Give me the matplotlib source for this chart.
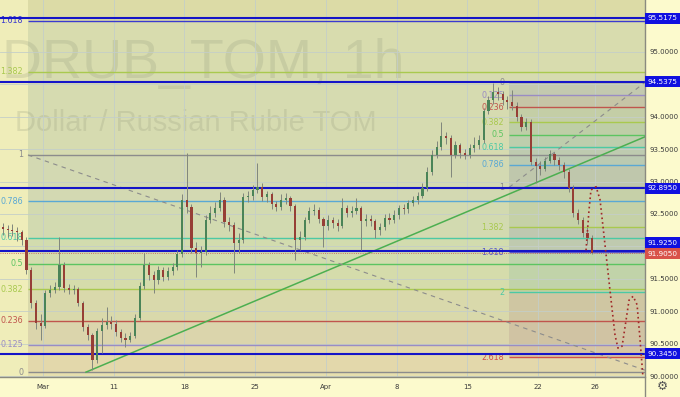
import numpy as np
import matplotlib.pyplot as plt
from matplotlib.patches import Rectangle
from matplotlib.transforms import blended_transform_factory

# hourly DRUB_TOM, sampled ~3 candles per trading day (Mar 1 = day 0)
first_open = 92.30
closes = [92.27, 92.25, 92.24, 92.22, 92.10, 91.64, 91.13, 90.82, 90.77, 91.28,
          91.33, 91.37, 91.71, 91.36, 91.33, 91.34, 91.13, 90.76, 90.63, 90.25,
          90.69, 90.79, 90.84, 90.80, 90.68, 90.59, 90.56, 90.62, 90.90, 91.39,
          91.71, 91.56, 91.48, 91.64, 91.53, 91.62, 91.68, 91.88, 92.72, 92.60,
          91.98, 91.90, 91.91, 92.41, 92.52, 92.59, 92.72, 92.38, 92.33, 92.05,
          92.10, 92.76, 92.78, 92.87, 92.92, 92.76, 92.80, 92.65, 92.61, 92.72,
          92.74, 92.62, 92.10, 92.15, 92.41, 92.55, 92.56, 92.42, 92.31, 92.41,
          92.36, 92.31, 92.59, 92.52, 92.55, 92.59, 92.39, 92.42, 92.39, 92.25,
          92.30, 92.44, 92.41, 92.48, 92.59, 92.58, 92.67, 92.72, 92.78, 92.90,
          93.15, 93.41, 93.53, 93.70, 93.67, 93.41, 93.56, 93.44, 93.41, 93.52,
          93.56, 93.64, 94.09, 94.26, 94.38, 94.35, 94.26, 94.23, 94.17, 94.00,
          93.84, 93.92, 93.30, 93.24, 93.20, 93.32, 93.43, 93.33, 93.26, 93.15,
          92.90, 92.52, 92.41, 92.21, 92.13, 91.905]
highs = [92.36, 92.33, 92.34, 92.30, 92.26, 92.14, 91.68, 91.18, 90.95, 91.33,
         91.40, 91.45, 92.15, 91.76, 91.42, 91.40, 91.38, 91.16, 90.80, 90.66,
         90.74, 90.90, 91.06, 90.92, 90.86, 90.73, 90.66, 90.68, 90.96, 91.45,
         91.90, 91.76, 91.62, 91.70, 91.68, 91.68, 91.74, 91.95, 92.80, 93.44,
         92.66, 92.06, 92.00, 92.48, 92.62, 92.68, 92.84, 92.76, 92.45, 92.38,
         92.20, 92.82, 92.86, 92.94, 93.29, 92.98, 92.86, 92.84, 92.70, 92.80,
         92.82, 92.78, 92.66, 92.24, 92.46, 92.60, 92.66, 92.60, 92.46, 92.48,
         92.46, 92.42, 92.75, 92.64, 92.62, 92.75, 92.62, 92.50, 92.48, 92.42,
         92.36, 92.50, 92.52, 92.56, 92.64, 92.66, 92.72, 92.78, 92.84, 92.98,
         93.22, 93.48, 93.62, 93.92, 93.76, 93.72, 93.62, 93.60, 93.50, 93.58,
         93.69, 93.72, 94.14, 94.32, 94.52, 94.46, 94.40, 94.32, 94.41, 94.22,
         94.04, 93.98, 93.96, 93.36, 93.32, 93.38, 93.49, 93.46, 93.38, 93.30,
         93.20, 92.94, 92.58, 92.46, 92.30, 92.18]
lows = [92.18, 92.15, 92.16, 92.08, 92.02, 91.58, 91.05, 90.72, 90.56, 90.74,
        91.22, 91.28, 91.33, 91.30, 91.26, 91.27, 91.08, 90.70, 90.55, 90.09,
        90.20, 90.35, 90.72, 90.72, 90.62, 90.52, 90.45, 90.52, 90.58, 90.86,
        91.35, 91.48, 91.28, 91.42, 91.47, 91.48, 91.56, 91.64, 91.84, 92.52,
        91.90, 91.53, 91.68, 91.86, 92.36, 92.46, 92.54, 92.30, 92.24, 91.59,
        91.90, 92.05, 92.68, 92.72, 92.82, 92.70, 92.68, 92.58, 92.54, 92.56,
        92.66, 92.55, 91.79, 91.95, 92.10, 92.36, 92.48, 92.36, 91.99, 92.26,
        92.28, 92.24, 92.28, 92.46, 92.46, 92.50, 91.94, 92.32, 92.32, 92.13,
        92.18, 92.26, 92.34, 92.36, 92.42, 92.50, 92.52, 92.62, 92.66, 92.74,
        92.86, 93.10, 93.36, 93.48, 93.58, 93.07, 93.36, 93.36, 93.34, 93.36,
        93.46, 93.50, 93.60, 94.04, 94.20, 94.26, 94.18, 94.12, 94.10, 93.94,
        93.78, 93.80, 93.25, 92.98, 93.10, 93.16, 93.28, 93.26, 93.18, 93.06,
        92.84, 92.46, 92.34, 92.14, 92.04, 91.88]

tick_days = [0, 5, 10, 15, 20, 25, 30, 35, 39]
tick_labels = ['Mar', '11', '18', '25', 'Apr', '8', '15', '22', '26']
price_ticks = [90.0, 90.5, 91.0, 91.5, 92.0, 92.5, 93.0, 93.5, 94.0, 94.5, 95.0]

key_levels = [95.5175, 94.5375, 92.895, 91.925, 90.345]
last_price = 91.905

fib_ratios = [0, 0.125, 0.236, 0.382, 0.5, 0.618, 0.786, 1, 1.382, 1.618]
fib_colors = ['#8c8c8c', '#9a8cc4', '#c0554d', '#a9c94f', '#5cc461', '#4cc9a4',
              '#5aa8d4', '#8c8c8c', '#a9c94f', '#3a3ad0']
# zone fills as they look on the chart (below 0, 0..0.125, ..., 1.382..1.618, above)
fib_zone_colors = ['#e6dfae', '#e3d8ab', '#dbd5ac', '#d9d9ab', '#d5dcab', '#d2dcae',
                   '#d2dab0', '#d3d9b2', '#d6dbb0', '#d8dcae', '#dcdba6']
fib_lo, fib_hi = 90.06, 93.41
fib_start = -1.06

fib2_ratios = [0, 0.125, 0.236, 0.382, 0.5, 0.618, 0.786, 1, 1.382, 1.618, 2, 2.618]
fib2_colors = ['#8c8c8c', '#9a8cc4', '#c0554d', '#a9c94f', '#5cc461', '#4cc9a4',
               '#5aa8d4', '#8c8c8c', '#a9c94f', '#5b5bc8', '#4cc9a4', '#d0504a']
fib2_top, fib2_bot = 94.53, 92.91
fib2_start = 32.96

trend_days = [3.04, 42.57]
trend_prices = [90.06, 93.69]

proj_days = [38.40, 38.61, 38.75, 39.11, 39.39, 39.82, 40.17, 40.45, 40.66, 40.95,
             41.23, 41.44, 41.73, 42.01, 42.22, 42.43]
proj_prices = [91.94, 92.56, 92.87, 92.92, 92.72, 91.87, 91.17, 90.63, 90.43, 90.46,
               90.86, 91.17, 91.23, 91.10, 90.56, 89.97]

W, H = 680, 397
fig = plt.figure(figsize=(W / 100, H / 100), dpi=100, facecolor='#fcfacd')
ax = fig.add_axes([0, 20 / H, 645 / W, 377 / H])
ax.set_facecolor('#efedb9')
x0, x1 = -3.04, 42.57
y0, y1 = 89.985, 95.80
ax.set_xlim(x0, x1)
ax.set_ylim(y0, y1)
for s in ax.spines.values():
    s.set_visible(False)

# axes / grid
ax.set_xticks(tick_days)
ax.set_xticklabels(tick_labels)
ax.set_yticks(price_ticks)
ax.set_yticklabels(['' if p in (92.0, 94.5) else '%.4f' % p for p in price_ticks])
ax.yaxis.tick_right()
ax.tick_params(axis='both', length=0, labelsize=5, labelcolor='#3a3a3a')
ax.tick_params(axis='x', pad=5)
ax.tick_params(axis='y', pad=3)
ax.grid(color='#c4cec8', lw=0.6, zorder=1.5)

# big fib retracement
fp = [fib_lo + r * (fib_hi - fib_lo) for r in fib_ratios]
edges = [y0 - 1] + fp + [y1 + 1]
for k, c in enumerate(fib_zone_colors):
    ax.fill_between([fib_start, x1], edges[k], edges[k + 1], color=c, lw=0, zorder=0.2)
for r, p, c in zip(fib_ratios, fp, fib_colors):
    ax.hlines(p, fib_start, x1, color=c, lw=1.0, zorder=2)
    ax.text(-1.41, p, ('%g' % r), color=c, fontsize=5.8, ha='right', va='center')

# small fib retracement
fp2 = [fib2_top + r * (fib2_bot - fib2_top) for r in fib2_ratios]
ax.fill_between([fib2_start, x1], fp2[-1], fp2[0], color='#7890a8', alpha=0.10, lw=0, zorder=0.3)
ax.fill_between([fib2_start, x1], fp2[7], fp2[0], color='#7890a8', alpha=0.06, lw=0, zorder=0.3)
for k in range(1, len(fp2)):
    ax.fill_between([fib2_start, x1], fp2[k], fp2[k - 1], color=fib2_colors[k],
                    alpha=0.08, lw=0, zorder=0.3)
for r, p, c in zip(fib2_ratios, fp2, fib2_colors):
    ax.hlines(p, fib2_start, x1, color=c, lw=1.0, zorder=2)
    ax.text(32.6, p, ('%g' % r), color=c, fontsize=5.8, ha='right', va='center')

# trend lines
ax.plot(trend_days, trend_prices, color='#4caf50', lw=1.1, zorder=2.5)
ax.plot([fib_start, x1], [fib_hi, 90.09], color='#8c8c8c', lw=0.8, ls=(0, (4, 4)), zorder=2.5)
ax.plot([fib2_start, x1], [fib2_bot, fib2_top], color='#8c8c8c', lw=0.8, ls=(0, (4, 4)), zorder=2.5)

# key levels
for lv in key_levels:
    ax.axhline(lv, color='#1414c8', lw=1.5, zorder=3)
ax.axhline(last_price, color='#c05050', lw=0.6, ls=':', zorder=3)

# watermark
ax.text(2 / W, 1 - 78 / H, 'DRUB_TOM, 1h', transform=fig.transFigure, fontsize=40,
        family='Liberation Sans', color='#8e9478', alpha=0.22, va='baseline', zorder=1)
ax.text(15 / W, 1 - 131 / H, 'Dollar / Russian Ruble TOM', transform=fig.transFigure,
        fontsize=21, family='Liberation Sans', color='#8e9478', alpha=0.22,
        va='baseline', zorder=1)

# candles
closes = np.array(closes)
opens = np.concatenate([[first_open], closes[:-1]])
days = -3 + (np.arange(len(closes)) + 0.5) / 3
up = closes >= opens
ax.vlines(days, lows, highs, color='#80867c', lw=0.7, zorder=4)
ax.bar(days, closes - opens, bottom=opens, width=0.15,
       color=np.where(up, '#4a8458', '#963f36'), lw=0, zorder=5)

# projection path
ax.plot(proj_days, proj_prices, color='#a02828', lw=1.2, ls=(0, (1, 1.8)), zorder=6)

# axis separators
fig.add_artist(plt.Line2D([645 / W, 645 / W], [0, 1], color='#8a8a80', lw=1))
fig.add_artist(plt.Line2D([0, 645 / W], [20 / H, 20 / H], color='#8a8a80', lw=1))

# price boxes on right axis
bt = blended_transform_factory(fig.transFigure, ax.transData)
box_h = 11 / 64.8
box_shift = {91.925: 0.13}
for lv in key_levels:
    y = lv + box_shift.get(lv, 0)
    fig.add_artist(Rectangle((645 / W, y - box_h / 2), 35 / W, box_h, transform=bt,
                             color='#1010e0', lw=0, zorder=5))
    fig.text(662 / W, y, '%.4f' % lv, transform=bt, color='white', fontsize=5.2,
             ha='center', va='center', zorder=6)
y = last_price - 0.02
fig.add_artist(Rectangle((645 / W, y - box_h / 2), 35 / W, box_h, transform=bt,
                         color='#d9534a', lw=0, zorder=5))
fig.text(662 / W, y, '%.4f' % last_price, transform=bt, color='white', fontsize=5.2,
         ha='center', va='center', zorder=6)

fig.text(662 / W, 1 - 386 / H, '\u2699', color='#555555', fontsize=9, ha='center', va='center')

fig.savefig('out.png', dpi=100, facecolor=fig.get_facecolor())
